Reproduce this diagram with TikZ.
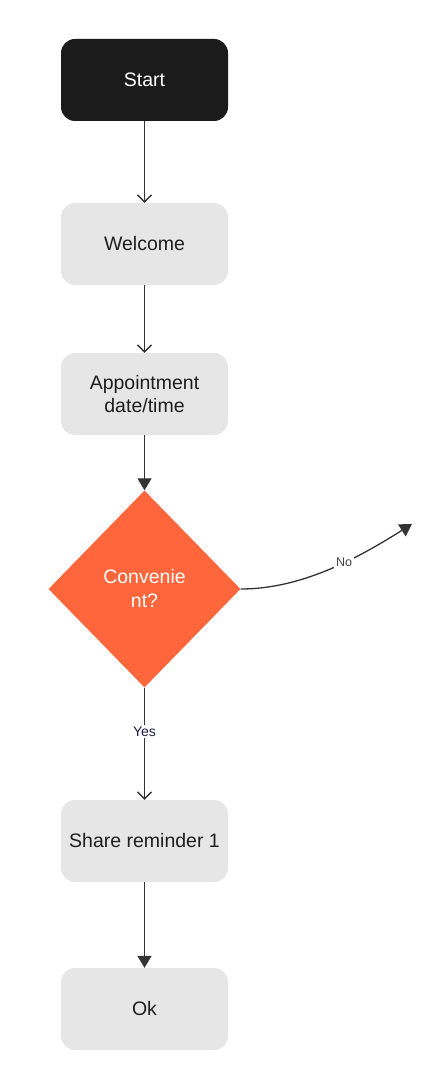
\documentclass[tikz,border=0pt]{standalone}
\usepackage{fontspec}
\setmainfont{Liberation Sans}
\usetikzlibrary{shapes.geometric,arrows.meta}
\definecolor{startfill}{HTML}{1B1B1B}
\definecolor{boxfill}{HTML}{E6E6E6}
\definecolor{boxtext}{HTML}{1E1E1E}
\definecolor{diafill}{HTML}{FF663C}
\definecolor{linecol}{HTML}{333333}
\definecolor{yescol}{HTML}{1C1C4A}
\definecolor{nocol}{HTML}{444444}
\tikzset{
  flowbox/.style={rectangle, rounded corners=14pt, minimum width=167pt, minimum height=82pt,
    inner sep=0pt, align=center, font=\fontsize{19.5pt}{23pt}\selectfont},
  graybox/.style={flowbox, fill=boxfill, text=boxtext},
  blackbox/.style={flowbox, fill=startfill, text=white},
  decision/.style={diamond, fill=diafill, text=white, minimum width=192pt, minimum height=197pt,
    inner sep=0pt, align=center, font=\fontsize{19.5pt}{24pt}\selectfont},
  conn/.style={draw=linecol, line width=1.3pt},
  opentip/.style={conn, -{Straight Barb[length=7pt,width=14pt,line width=1.3pt]}},
  filltip/.style={conn, -{Triangle[length=12pt,width=14pt]}},
  yeslabel/.style={fill=white, text=yescol, inner sep=2pt, font=\fontsize{14pt}{16pt}\selectfont},
  nolabel/.style={fill=white, text=nocol, inner sep=2pt, font=\fontsize{12.5pt}{14pt}\selectfont}
}
\begin{document}
\begin{tikzpicture}[x=1pt,y=-1pt]
\useasboundingbox (0,0) rectangle (436,1078);
\node[blackbox] (start) at (144.5,80) {Start};
\node[graybox] (welcome) at (144.5,244) {Welcome};
\node[graybox] (appt) at (144.5,394) {Appointment\\date/time};
\node[decision] (conv) at (144.5,589) {Convenie\\nt?};
\node[graybox] (share) at (144.5,841) {Share reminder 1};
\node[graybox] (ok) at (144.5,1009) {Ok};
\coordinate (noend) at (412,524);

\draw[opentip] (start) -- (welcome);
\draw[opentip] (welcome) -- (appt);
\draw[filltip] (appt) -- (conv.north);
\draw[filltip] (conv.east) .. controls (300,589) and (355,560) .. node[nolabel, pos=0.6] {No} (noend);
\draw[opentip] (conv.south) -- node[yeslabel, pos=0.39] {Yes} (share);
\draw[filltip] (share) -- (ok);
\end{tikzpicture}
\end{document}
